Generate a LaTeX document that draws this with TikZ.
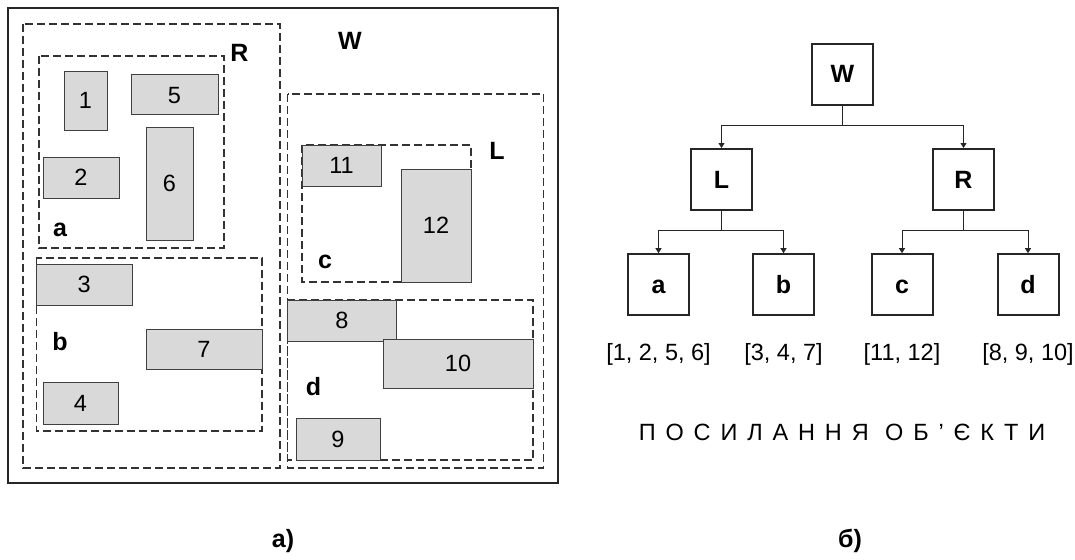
\documentclass[tikz,border=0pt]{standalone}
\usepackage{fontspec}
\setmainfont{Liberation Sans}
\newfontfamily\spacedfont[LetterSpace=42]{Liberation Sans}
\usepackage{tikz}
\usetikzlibrary{arrows.meta}

\definecolor{boxgray}{HTML}{D9D9D9}
\definecolor{edgegray}{HTML}{404040}
\definecolor{dashgray}{HTML}{333333}

\tikzset{
    region/.style={draw=dashgray, line width=1.1pt, dash pattern=on 8pt off 4pt},
    obj/.style={draw=edgegray, fill=boxgray, line width=1pt, inner sep=0pt,
        text height=16pt, text depth=0pt, font=\fontsize{23.5}{28}\selectfont},
    lbl/.style={anchor=base, font=\fontsize{25}{30}\selectfont\bfseries},
    treebox/.style={draw=black!85, line width=2pt, minimum size=61pt, inner sep=0pt,
        text height=17pt, text depth=0pt, font=\fontsize{25}{30}\selectfont\bfseries},
    list/.style={anchor=base, font=\fontsize{23.5}{28}\selectfont},
    link/.style={-{Triangle[length=5pt, width=6pt]}, line width=1pt, draw=black!85},
}

\begin{document}
\begin{tikzpicture}[x=1pt, y=-1pt]
    \useasboundingbox (0,0) rectangle (1075,559);

    % left: the space and its regions
    \draw[line width=2pt, draw=black!85] (8,8) rectangle (558,483);
    \draw[region] (23,24) rectangle (280,468);
    \draw[region] (39,56) rectangle (224,248);
    \draw[region] (36.4,258) rectangle (262,431);
    \draw[region] (287.5,94) rectangle (543.6,468);
    \draw[region] (302,145) rectangle (471,282);
    \draw[region] (287.5,300) rectangle (533,460);

    \node[lbl] (tW) at (350,50){W};
    \node[lbl] (tR) at (239.5,62){R};
    \node[lbl] (tL) at (497,159){L};
    \node[lbl] (ta) at (60,236){a};
    \node[lbl] (tb) at (60,350){b};
    \node[lbl] (tc) at (325,268){c};
    \node[lbl] (td) at (313.6,395){d};

    \node[obj, minimum width=43pt, minimum height=58pt] (o1) at (85.5,101){1};
    \node[obj, minimum width=87pt, minimum height=40pt] (o5) at (174.5,95){5};
    \node[obj, minimum width=76pt, minimum height=41pt] (o2) at (81,177.5){2};
    \node[obj, minimum width=47pt, minimum height=113pt] (o6) at (169.5,183.5){6};
    \node[obj, minimum width=95.6pt, minimum height=41.7pt] (o3) at (84.2,284.9){3};
    \node[obj, minimum width=116pt, minimum height=39.3pt] (o7) at (204,349.4){7};
    \node[obj, minimum width=75pt, minimum height=41.3pt] (o4) at (80.5,403.4){4};
    \node[obj, minimum width=79pt, minimum height=41pt] (o11) at (341.5,165.5){11};
    \node[obj, minimum width=70pt, minimum height=113pt] (o12) at (436,225.5){12};
    \node[obj, minimum width=108.5pt, minimum height=41pt] (o8) at (341.8,320.5){8};
    \node[obj, minimum width=150pt, minimum height=49.7pt] (o10) at (458,363.9){10};
    \node[obj, minimum width=84pt, minimum height=41.3pt] (o9) at (338,439.4){9};

    % right: the tree
    \node[treebox] (W) at (842.5,74.5){W};
    \node[treebox] (L) at (721.5,179.5){L};
    \node[treebox] (R) at (963.5,179.5){R};
    \node[treebox] (a) at (658.5,284.7){a};
    \node[treebox] (b) at (783.5,284.7){b};
    \node[treebox] (c) at (902,284.7){c};
    \node[treebox] (d) at (1028,284.7){d};

    \coordinate (Wj) at (842.5,125.7);
    \coordinate (Lj) at (721.5,230.7);
    \coordinate (Rj) at (963.5,230.7);
    \draw[line width=1pt, draw=black!85] (W.south)--(Wj);
    \draw[link] (Wj) -| (L.north);
    \draw[link] (Wj) -| (R.north);
    \draw[line width=1pt, draw=black!85] (L.south)--(Lj);
    \draw[link] (Lj) -| (a.north);
    \draw[link] (Lj) -| (b.north);
    \draw[line width=1pt, draw=black!85] (R.south)--(Rj);
    \draw[link] (Rj) -| (c.north);
    \draw[link] (Rj) -| (d.north);

    \node[list] (la) at (658.5,360){[1, 2, 5, 6]};
    \node[list] (lb) at (783.5,360){[3, 4, 7]};
    \node[list] (lc) at (902,360){[11, 12]};
    \node[list] (ld) at (1028,360){[8, 9, 10]};

    \node[list, font=\fontsize{23.5}{28}\spacedfont] (refs) at (842,440){ПОСИЛАННЯ ОБ’ЄКТИ};

    \node[lbl] (capA) at (283,547){а)};
    \node[lbl] (capB) at (850,547){б)};
\end{tikzpicture}
\end{document}
